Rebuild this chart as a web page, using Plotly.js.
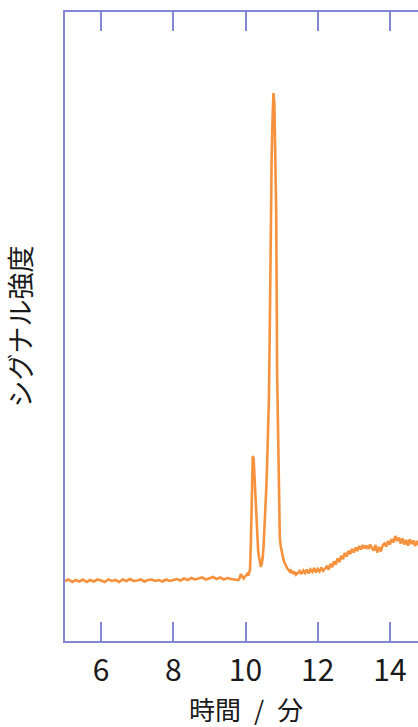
<!DOCTYPE html>
<html>
<head>
<meta charset="utf-8">
<script src="https://cdn.plot.ly/plotly-3.0.1.min.js"></script>
<style>
html,body{margin:0;padding:0;background:#fff;overflow:hidden;}
#chart{width:440px;height:727px;}
</style>
</head>
<body>
<div id="chart"></div>
<script>
// Time (min)
const timeBase = [5.0,5.1,5.2,5.3,5.4,5.5,5.6,5.7,5.8,5.9,6.0,6.1,6.2,6.3,6.4,6.5,6.6,6.7,6.8,6.9,7.0,7.1,7.2,7.3,7.4,7.5,7.6,7.7,7.8,7.9,8.0,8.1,8.2,8.3,8.4,8.5,8.6,8.7,8.8,8.9,9.0,9.1,9.2,9.3,9.4,9.5,9.6,9.7,9.8];
const signalBase = [0.0,0.3,-0.2,0.2,-0.1,0.3,-0.2,0.2,-0.1,0.3,0.1,-0.2,0.3,0.0,0.2,-0.2,0.3,0.0,0.4,0.0,0.1,0.3,-0.1,0.2,0.3,0.0,0.2,-0.1,0.3,0.0,0.2,0.4,0.1,0.5,0.2,0.6,0.3,0.5,0.7,0.3,0.6,0.8,0.4,0.7,0.3,0.6,0.4,0.3,0.2];

const timePeaks = [9.825,9.85,9.875,9.9,9.925,9.95,9.975,10.0,10.025,10.05,10.075,10.1,10.125,10.15,10.175,10.2,10.225,10.25,10.275,10.3,10.325,10.35,10.375,10.4,10.425,10.45,10.475,10.5,10.525,10.55,10.575,10.6,10.625,10.65,10.675,10.7,10.725,10.75,10.775,10.8,10.825,10.85,10.875,10.9,10.925,10.95,10.975,11.0,11.025,11.05,11.075,11.1,11.125,11.15,11.175,11.2,11.225,11.25,11.275,11.3,11.325,11.35,11.375,11.4];
const signalPeaks = [0.4,1.0,1.4,1.0,0.6,0.5,0.8,1.0,1.2,1.4,1.1,1.5,2.2,8.0,17.0,25.0,24.5,20.5,16.8,11.5,7.8,6.0,4.8,3.8,2.8,3.5,4.6,6.8,10.0,13.6,18.5,23.6,30.0,37.0,52.0,72.0,85.0,92.5,97.6,95.5,87.0,74.0,42.0,27.0,13.0,8.8,7.0,5.8,4.9,4.3,3.8,3.3,3.0,2.6,2.4,2.1,1.9,2.3,1.6,1.5,2.0,1.3,1.8,1.3];

const timeTail = [11.45,11.5,11.55,11.6,11.65,11.7,11.75,11.8,11.85,11.9,11.95,12.0,12.05,12.1,12.15,12.2,12.25,12.3,12.35,12.4,12.45,12.5,12.55,12.6,12.65,12.7,12.75,12.8,12.85,12.9,12.95,13.0,13.05,13.1,13.15,13.2,13.25,13.3,13.35,13.4,13.45,13.5,13.55,13.6,13.65,13.7,13.75,13.8,13.85,13.9,13.95,14.0,14.05,14.1,14.15,14.2,14.25,14.3,14.35,14.4,14.45,14.5,14.55,14.6,14.65,14.7,14.75,14.8,14.85,14.9,14.95,15.0];
const signalTail = [1.6,2.0,1.4,2.1,1.6,2.3,1.5,2.3,1.8,2.6,1.7,2.4,1.9,2.7,2.0,2.4,2.9,2.3,3.4,2.8,3.9,3.3,4.5,3.8,5.0,4.4,5.6,4.9,6.0,5.4,6.4,5.7,6.7,6.0,7.0,6.3,7.2,6.5,7.1,6.4,7.3,6.6,6.1,7.2,5.7,6.8,5.9,7.1,7.5,6.9,8.0,7.3,8.4,7.7,9.0,8.0,8.7,7.5,8.5,7.3,8.2,7.1,8.3,7.4,8.1,7.0,8.0,7.2,8.1,7.3,8.2,7.5];

const xTickVals = [6,8,10,12,14];
const xTickText = ['6','8','10','12','14'];
const xTitle = '時間\u2002/\u2002分';
const yTitle = 'シグナル強度';

const time = timeBase.concat(timePeaks, timeTail);
const signal = signalBase.concat(signalPeaks, signalTail);

const axisColor = 'rgb(132,136,212)';
const fontFam = '"Noto Sans CJK JP", "Noto Sans", sans-serif';

Plotly.newPlot('chart', [{
  x: time, y: signal, type: 'scatter', mode: 'lines',
  line: {color: 'rgb(246,146,62)', width: 2.6},
  hoverinfo: 'none'
}], {
  width: 440, height: 727,
  margin: {l: 65, r: 14, t: 12, b: 86},
  paper_bgcolor: '#fff', plot_bgcolor: '#fff',
  showlegend: false,
  font: {family: fontFam, color: '#1a1a1a'},
  xaxis: {
    range: [5, 15], tickvals: xTickVals, ticktext: xTickText,
    ticks: 'inside', ticklen: 19, tickwidth: 2, tickcolor: axisColor,
    showline: true, linecolor: axisColor, linewidth: 2, mirror: 'ticks',
    showgrid: false, zeroline: false,
    ticklabelstandoff: 2,
    tickfont: {size: 30, family: fontFam, color: '#1a1a1a'},
    automargin: false
  },
  yaxis: {
    range: [-12, 113.8],
    showticklabels: false, ticks: '',
    showline: true, linecolor: axisColor, linewidth: 2, mirror: true,
    showgrid: false, zeroline: false,
    title: {text: yTitle, font: {size: 27, family: fontFam, color: '#1a1a1a'}, standoff: 30},
    automargin: false
  },
  annotations: [{
    text: xTitle, xref: 'paper', yref: 'paper', x: 0.5, y: -0.1075,
    xanchor: 'center', yanchor: 'middle', showarrow: false,
    font: {size: 26, family: fontFam, color: '#1a1a1a'}
  }]
}, {staticPlot: true, displayModeBar: false});
</script>
</body>
</html>
